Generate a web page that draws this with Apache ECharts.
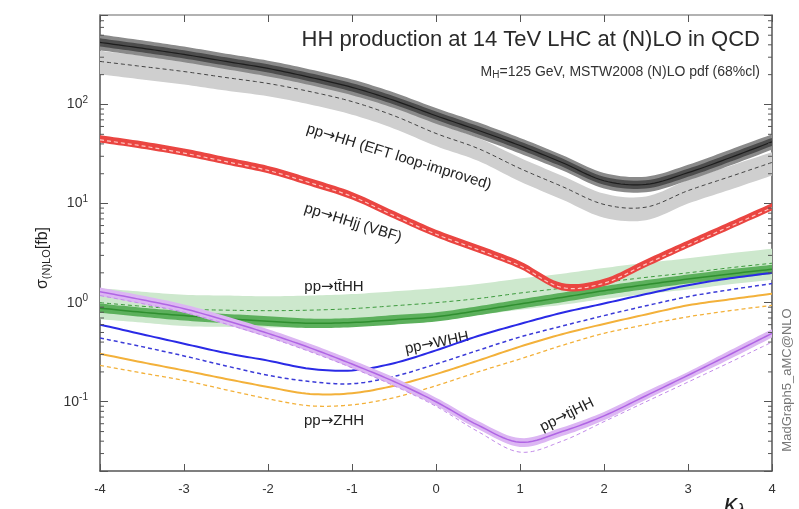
<!DOCTYPE html>
<html><head><meta charset="utf-8">
<script src="https://cdn.jsdelivr.net/npm/echarts@6/dist/echarts.min.js"></script>
<style>html,body{margin:0;padding:0;background:#fff}#c{width:799px;height:509px}</style>
</head><body><div id="c"></div>
<script>
const kappa = [-4,-3.5,-3,-2.5,-2,-1.5,-1,-0.5,0,0.5,1,1.5,2,2.5,3,3.5,4];
const yMajor = [0.1,1,10,100];

// gg -> HH (EFT loop-improved)
const hhNlo     = [423,370,320,272,231,188,149,110,77,55,38.5,26,17,15.6,20.5,29,42];
const hhNloUp   = [508,444,384,326,277,226,179,132,92,66,46,31,20.4,18.7,24.6,35,50];
const hhNloLow  = [352,308,267,227,192,157,124,92,64,46,32,21.7,14.2,13,17.1,24.2,35];
const hhNloInUp = [465,407,352,299,254,207,164,121,85,60.5,42.4,28.6,18.7,17.2,22.5,32,46];
const hhNloInLow= [385,336,291,247,210,171,135,100,70,50,35,23.6,15.5,14.2,18.6,26.4,38.2];
const hhLo      = [272,242,215,187,163,135,107,77,51,36,22.6,14.9,9.8,9.2,13.5,18.7,26];
const hhLoUp    = [348,310,275,239,209,173,137,99,65,46,29,19.1,12.6,11.8,17.3,24,33];
const hhLoLow   = [201,179,159,138,121,100,79,57,38,27,16.7,11,7.2,6.8,10,13.8,19.2];

// VBF HHjj
const vbfNlo    = [45,39,33,27,22,16.5,12,7.7,5.0,3.5,2.4,1.45,1.6,2.5,3.9,6.0,9.3];
const vbfUp     = [49,42.5,36,29.4,24,18,13.1,8.4,5.45,3.82,2.62,1.58,1.74,2.73,4.25,6.54,10.1];
const vbfLow    = [41.3,35.8,30.3,24.8,20.2,15.1,11,7.06,4.59,3.21,2.2,1.33,1.47,2.29,3.58,5.5,8.53];
const vbfLo     = [44,38.2,32.3,26.5,21.6,16.2,11.8,7.55,4.9,3.43,2.35,1.42,1.57,2.45,3.82,5.88,9.1];

// ttHH
const ttNlo     = [0.88,0.8,0.74,0.69,0.65,0.62,0.63,0.67,0.72,0.83,0.97,1.13,1.32,1.52,1.73,1.95,2.17];
const ttNloUp   = [0.98,0.89,0.82,0.77,0.73,0.69,0.7,0.75,0.8,0.92,1.08,1.26,1.47,1.69,1.92,2.17,2.41];
const ttNloLow  = [0.79,0.72,0.66,0.62,0.58,0.555,0.565,0.6,0.645,0.745,0.87,1.01,1.19,1.37,1.56,1.75,1.95];
const ttLo      = [1.0,0.92,0.86,0.84,0.83,0.84,0.87,0.93,1.0,1.1,1.25,1.4,1.6,1.8,2.0,2.25,2.5];
const ttLoUp    = [1.4,1.29,1.2,1.18,1.16,1.18,1.22,1.3,1.4,1.54,1.75,1.96,2.24,2.52,2.8,3.15,3.5];
const ttLoLow   = [0.68,0.63,0.58,0.57,0.56,0.57,0.59,0.63,0.68,0.75,0.85,0.95,1.09,1.22,1.36,1.53,1.7];

// WHH
const whNlo     = [0.60,0.48,0.385,0.31,0.26,0.215,0.207,0.245,0.33,0.46,0.61,0.79,0.98,1.22,1.5,1.76,2.0];
const whLo      = [0.44,0.36,0.29,0.23,0.185,0.16,0.152,0.18,0.24,0.33,0.45,0.58,0.74,0.93,1.15,1.35,1.56];
// ZHH
const zhNlo     = [0.305,0.25,0.207,0.17,0.141,0.12,0.122,0.145,0.19,0.26,0.36,0.48,0.61,0.76,0.94,1.08,1.23];
const zhLo      = [0.233,0.195,0.164,0.132,0.107,0.091,0.093,0.11,0.145,0.2,0.27,0.37,0.49,0.6,0.72,0.83,0.94];
// tjHH
const tjNlo     = [1.29,1.07,0.87,0.66,0.49,0.35,0.24,0.16,0.1,0.058,0.039,0.05,0.072,0.115,0.185,0.3,0.49];
const tjUp      = [1.42,1.18,0.96,0.73,0.54,0.385,0.264,0.176,0.11,0.064,0.043,0.055,0.079,0.127,0.2,0.33,0.54];
const tjLow     = [1.17,0.97,0.79,0.6,0.445,0.32,0.218,0.145,0.091,0.053,0.035,0.045,0.065,0.105,0.168,0.27,0.445];
const tjLo      = [1.18,0.98,0.8,0.61,0.45,0.32,0.22,0.145,0.09,0.05,0.031,0.04,0.063,0.1,0.158,0.25,0.4];

const FONT = '"Liberation Sans", Arial, sans-serif';
const ARROWFONT = '"DejaVu Sans", sans-serif';

// Catmull-Rom smoothing of pixel points (rendering only)
function spline(P){
  const out=[]; const n=P.length;
  for (let i=0;i<n-1;i++){
    const p0=P[Math.max(i-1,0)], p1=P[i], p2=P[i+1], p3=P[Math.min(i+2,n-1)];
    for (let s=0;s<10;s++){
      const t=s/10, t2=t*t, t3=t2*t;
      const f=j=>0.5*((2*p1[j])+(-p0[j]+p2[j])*t+(2*p0[j]-5*p1[j]+4*p2[j]-p3[j])*t2+(-p0[j]+3*p1[j]-3*p2[j]+p3[j])*t3);
      out.push([f(0),f(1)]);
    }
  }
  out.push(P[n-1]);
  return out;
}
function band(low, up, color, z){
  return {type:'custom', silent:true, z:z, clip:true, data:[[0,1]], encode:{x:0,y:1},
    renderItem:function(params, api){
      const U = kappa.map((k,i)=>api.coord([k, up[i]]));
      const L = kappa.map((k,i)=>api.coord([k, low[i]]));
      const poly = spline(U).concat(spline(L).reverse());
      return {type:'polygon', shape:{points:poly}, style:{fill:color}};
    }};
}
function curve(arr, color, width, dash, z){
  return {type:'custom', silent:true, z:z, clip:true, data:[[0,1]], encode:{x:0,y:1},
    renderItem:function(params, api){
      const P = kappa.map((k,i)=>api.coord([k, arr[i]]));
      return {type:'polyline', shape:{points:spline(P)},
        style:{stroke:color, lineWidth:width, fill:null, lineDash: dash || null}};
    }};
}

const minorVals = [];
for (let e=-2; e<=2; e++) for (let m=2; m<=9; m++) { const v=m*Math.pow(10,e); if (v>0.02 && v<800) minorVals.push(v); }

const D = [4,3];
const series = [
  band(ttLoLow, ttLoUp, '#cde8cd', 1),
  band(hhLoLow, hhLoUp, '#cfcfcf', 2),
  band(hhNloLow, hhNloUp, '#8a8a8a', 3),
  band(hhNloInLow, hhNloInUp, '#4d4d4d', 4),
  curve(hhNlo, '#1e1e1e', 1.2, null, 5), curve(hhLo, '#444', 1, D, 5),
  band(ttNloLow, ttNloUp, '#5cb05c', 6),
  curve(ttNlo, '#2f8f2f', 1.5, null, 7), curve(ttLo, '#3c9a3c', 1, D, 7),
  band(vbfLow, vbfUp, '#ea4541', 8),
  curve(vbfLo, '#ffc4c0', 1.2, D, 9),
  curve(whNlo, '#2a2ae6', 2, null, 10), curve(whLo, '#3b3bd8', 1.5, D, 10),
  curve(zhNlo, '#f3b13a', 2, null, 10), curve(zhLo, '#f3b13a', 1.3, D, 10),
  band(tjLow, tjUp, '#dcb6f3', 11),
  curve(tjNlo, '#b065e4', 1.5, null, 12), curve(tjLo, '#c28ae9', 1, D, 12),
  {
    type:'custom', silent:true, z:20, clip:false,
    data: minorVals.map(v=>[-4,v]), encode:{x:0,y:1},
    renderItem:function(params, api){
      const v = api.value(1);
      const pL = api.coord([-4, v]);
      const pR = api.coord([4, v]);
      return {type:'group', children:[
        {type:'line', shape:{x1:pL[0], y1:pL[1], x2:pL[0]+4, y2:pL[1]}, style:{stroke:'#555', lineWidth:1}},
        {type:'line', shape:{x1:pR[0]-4, y1:pR[1], x2:pR[0], y2:pR[1]}, style:{stroke:'#555', lineWidth:1}}
      ]};
    }
  }
];

function logLabel(v){
  if (!yMajor.some(m=>Math.abs(m-v)/m<1e-6)) return '';
  const e = Math.round(Math.log10(v));
  return '{b|10}{s|' + e + '}';
}

const axisCommonY = {
  type:'log', logBase:10, min:0.02, max:800,
  axisLine:{show:true, onZero:false, lineStyle:{color:'#555', width:1.5}},
  axisTick:{show:true, inside:true, length:8, lineStyle:{color:'#555', width:1}},
  splitLine:{show:false}
};

function procLabel(txt, x, y, rot){
  const parts = txt.split('\u2192');
  return {type:'text', x:x, y:y, rotation:rot||0, silent:true,
    style:{text:'{a|'+parts[0]+'}{r|\u2192}{a|'+parts[1]+'}', align:'center', verticalAlign:'middle', textAlign:'center', textVerticalAlign:'middle',
      rich:{a:{fontSize:15, fontFamily:FONT, fill:'#222', color:'#222'}, r:{fontSize:15, fontFamily:ARROWFONT, fill:'#222', color:'#222'}}}};
}

const option = {
  animation:false,
  backgroundColor:'#fff',
  grid:{left:100, right:27, top:15, bottom:38},
  xAxis:[
    {type:'value', min:-4, max:4, interval:1,
     axisLine:{onZero:false, lineStyle:{color:'#555', width:1.5}},
     axisTick:{inside:true, length:7, lineStyle:{color:'#555'}},
     axisLabel:{color:'#333', fontSize:13, margin:12, fontFamily:FONT},
     splitLine:{show:false}},
    {type:'value', position:'top', min:-4, max:4, interval:1,
     axisLine:{onZero:false, lineStyle:{color:'#999', width:1.5}},
     axisTick:{inside:true, length:7, lineStyle:{color:'#555'}},
     axisLabel:{show:false}, splitLine:{show:false}}
  ],
  yAxis:[
    Object.assign({}, axisCommonY, {
      axisLabel:{formatter:logLabel, margin:12, color:'#333', fontFamily:FONT,
        rich:{b:{fontSize:14, color:'#333', fontFamily:FONT}, s:{fontSize:10, color:'#333', fontFamily:FONT, padding:[0,0,9,0]}}}
    }),
    Object.assign({}, axisCommonY, {position:'right', axisLabel:{show:false}})
  ],
  series: series,
  graphic:[
    {type:'text', x:760, y:40, silent:true, style:{text:'HH production at 14 TeV LHC at (N)LO in QCD', font:'22px '+FONT, fill:'#2a2a2a', align:'right', verticalAlign:'middle', textAlign:'right', textVerticalAlign:'middle'}},
    {type:'text', x:760, y:72, silent:true, style:{text:'{a|M}{b|H}{a|=125 GeV, MSTW2008 (N)LO pdf (68%cl)}', align:'right', verticalAlign:'middle', textAlign:'right', textVerticalAlign:'middle',
      rich:{a:{fontSize:14, fontFamily:FONT, fill:'#333', color:'#333'}, b:{fontSize:10, fontFamily:FONT, fill:'#333', color:'#333', padding:[7,0,0,0]}}}},
    procLabel('pp\u2192HH (EFT loop-improved)', 399, 157, -0.30),
    procLabel('pp\u2192HHjj (VBF)', 353, 223, -0.30),
    procLabel('pp\u2192tt\u0304HH', 334, 287, 0),
    procLabel('pp\u2192WHH', 437, 343, 0.20),
    procLabel('pp\u2192ZHH', 334, 421, 0),
    procLabel('pp\u2192tjHH', 567, 415, 0.46),
    {type:'text', x:43, y:258, rotation:Math.PI/2, silent:true, style:{text:'{a|\u03c3}{b|(N)LO}{a|[fb]}', align:'center', verticalAlign:'middle', textAlign:'center', textVerticalAlign:'middle',
      rich:{a:{fontSize:16, fontFamily:FONT, fill:'#222', color:'#222'}, b:{fontSize:11, fontFamily:FONT, fill:'#222', color:'#222', padding:[8,0,0,0]}}}},
    {type:'text', x:787, y:380, rotation:Math.PI/2, silent:true, style:{text:'MadGraph5_aMC@NLO', font:'13px '+FONT, fill:'#777', align:'center', verticalAlign:'middle', textAlign:'center', textVerticalAlign:'middle'}},
    {type:'text', x:724, y:505, silent:true, style:{text:'{k|\u03ba}{l|\u03bb}', align:'left', verticalAlign:'middle', textAlign:'left', textVerticalAlign:'middle',
      rich:{k:{fontSize:26, fontStyle:'italic', fontFamily:FONT, fill:'#222', color:'#222'}, l:{fontSize:17, fontStyle:'italic', fontFamily:FONT, fill:'#222', color:'#222', padding:[10,0,0,0]}}}}
  ]
};
const chart = echarts.init(document.getElementById('c'), null, {renderer:'canvas'});
chart.setOption(option);
</script>
</body></html>
